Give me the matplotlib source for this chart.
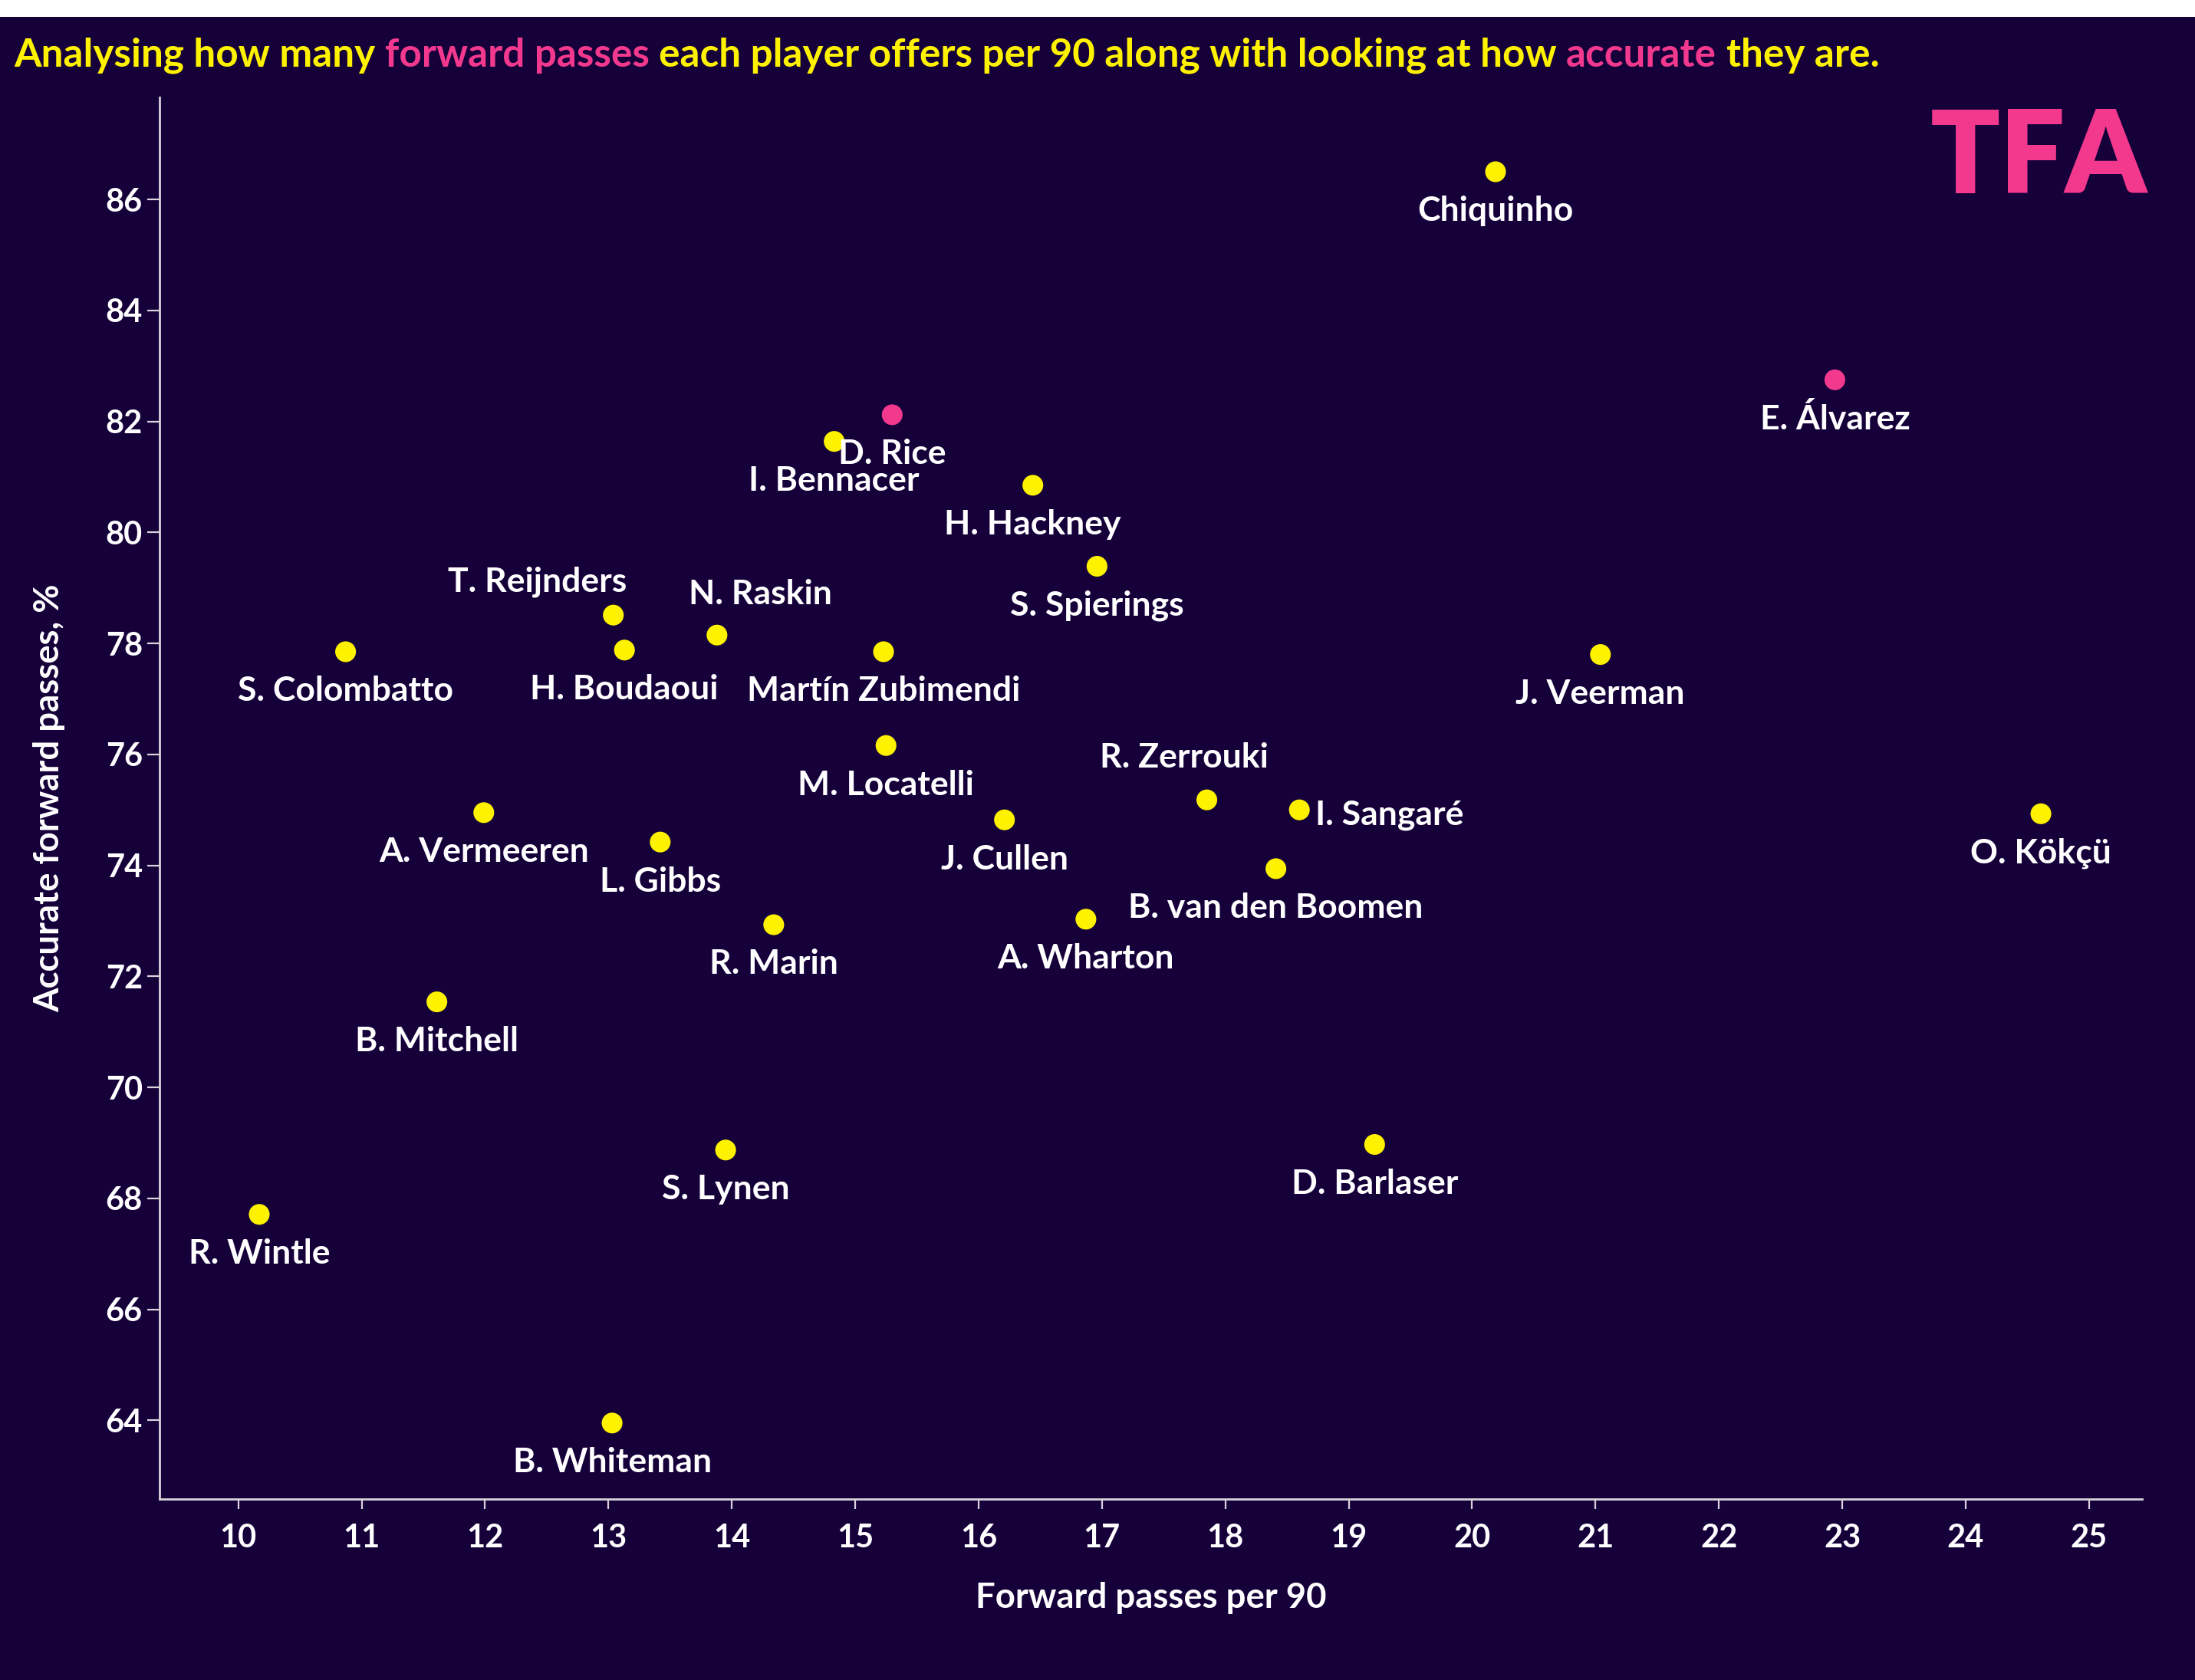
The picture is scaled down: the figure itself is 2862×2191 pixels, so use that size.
import numpy as np
import matplotlib
matplotlib.use('Agg')
import matplotlib.pyplot as plt
from matplotlib.patches import Rectangle

# data
players = ['Chiquinho', 'E. Álvarez', 'D. Rice', 'I. Bennacer', 'H. Hackney',
           'S. Spierings', 'T. Reijnders', 'N. Raskin', 'H. Boudaoui', 'S. Colombatto',
           'Martín Zubimendi', 'J. Veerman', 'M. Locatelli', 'R. Zerrouki', 'I. Sangaré',
           'A. Vermeeren', 'O. Kökçü', 'J. Cullen', 'L. Gibbs', 'B. van den Boomen',
           'A. Wharton', 'R. Marin', 'B. Mitchell', 'D. Barlaser', 'S. Lynen',
           'R. Wintle', 'B. Whiteman']
fwd_passes = [20.19, 22.94, 15.30, 14.83, 16.44,
              16.96, 13.04, 13.88, 13.13, 10.87,
              15.23, 21.04, 15.25, 17.85, 18.60,
              11.99, 24.61, 16.21, 13.42, 18.41,
              16.87, 14.34, 11.61, 19.21, 13.95,
              10.17, 13.03]
acc_fwd = [86.50, 82.75, 82.12, 81.64, 80.85,
           79.39, 78.51, 78.15, 77.88, 77.85,
           77.85, 77.80, 76.16, 75.18, 75.00,
           74.95, 74.93, 74.82, 74.42, 73.94,
           73.03, 72.93, 71.54, 68.97, 68.87,
           67.71, 63.95]
highlighted = ['E. Álvarez', 'D. Rice']

x_ticks = list(range(10, 26))
y_ticks = list(range(64, 87, 2))

BG = '#15003a'
YEL = '#fff200'
PINK = '#f2398e'
SPINE = '#d8d4dc'
FONT = 'Lato'

# label placement (offset points from the dot)
default_off = (0, -18.5)
label_off = {
    'T. Reijnders': (-35.5, 15.8),
    'N. Raskin': (20.4, 19.0),
    'R. Zerrouki': (-10.5, 19.7),
    'I. Sangaré': (7.5, -2.6),
}

W, H, DPI = 2862, 2191, 200
fig = plt.figure(figsize=(W / DPI, H / DPI), dpi=DPI, facecolor=BG)
fig.patches.append(Rectangle((0, 1 - 22 / H), 1, 22 / H, transform=fig.transFigure,
                             facecolor='white', edgecolor='none', zorder=-1))

ax = fig.add_axes([208 / W, 1 - 1955 / H, (2793 - 208) / W, (1955 - 127) / H])
ax.set_facecolor(BG)

colors = [PINK if p in highlighted else YEL for p in players]
ax.scatter(fwd_passes, acc_fwd, s=95, c=colors, edgecolors='none', zorder=3)

for p, x, y in zip(players, fwd_passes, acc_fwd):
    dx, dy = label_off.get(p, default_off)
    ha = 'left' if p == 'I. Sangaré' else 'center'
    ax.annotate(p, (x, y), xytext=(dx, dy), textcoords='offset points',
                ha=ha, va='center', color='white', fontsize=16,
                fontweight='bold', family=FONT, zorder=4)

ax.set_xlim(9.362, 25.43)
ax.set_ylim(62.58, 87.84)
ax.set_xticks(x_ticks)
ax.set_yticks(y_ticks)
for s in ['top', 'right']:
    ax.spines[s].set_visible(False)
for s in ['left', 'bottom']:
    ax.spines[s].set_color(SPINE)
    ax.spines[s].set_linewidth(1.0)
ax.tick_params(axis='x', length=4.7, width=0.8, color=SPINE, pad=6.8)
ax.tick_params(axis='y', length=5.8, width=0.8, color=SPINE, pad=2.2)
for lab in ax.get_xticklabels() + ax.get_yticklabels():
    lab.set_color('white')
    lab.set_fontsize(15)
    lab.set_fontweight('bold')
    lab.set_family(FONT)

ax.set_xlabel('Forward passes per 90', color='white', fontsize=16.4,
              fontweight='bold', family=FONT, va='center')
ax.xaxis.set_label_coords(0.5, -(2084 - 1955) / (1955 - 127))
ax.set_ylabel('Accurate forward passes, %', color='white', fontsize=16.4,
              fontweight='bold', family=FONT, va='center')
ax.yaxis.set_label_coords(-(208 - 64) / (2793 - 208), 0.5)

# multi-colour title
pieces = [('Analysing how many ', YEL), ('forward passes', PINK),
          (' each player offers per 90 along with looking at how ', YEL),
          ('accurate', PINK), (' they are.', YEL)]
renderer = fig.canvas.get_renderer()


def text_w(s, size):
    t = fig.text(0, 0, s, fontsize=size, fontweight='bold', family=FONT)
    w = t.get_window_extent(renderer).width
    t.remove()
    return w


full = ''.join(p for p, _ in pieces)
tsize = 18.0
tsize = tsize * (2428 / text_w(full, tsize))
x0 = 18
y_base = 1 - 87 / H
prefix = ''
for s, col in pieces:
    core = s.strip()
    lead = s[:len(s) - len(s.lstrip())]
    start = text_w(prefix + lead + core, tsize) - text_w(core, tsize) if prefix or lead else 0
    fig.text((x0 + start) / W, y_base, core, fontsize=tsize, fontweight='bold',
             family=FONT, color=col, va='baseline', ha='left')
    prefix += s

# logo
fig.text(2800 / W, 1 - 252 / H, 'TFA', fontsize=54, fontweight='heavy', family=FONT,
         color=PINK, ha='right', va='baseline')

fig.savefig('out.png', dpi=DPI, facecolor=BG)
